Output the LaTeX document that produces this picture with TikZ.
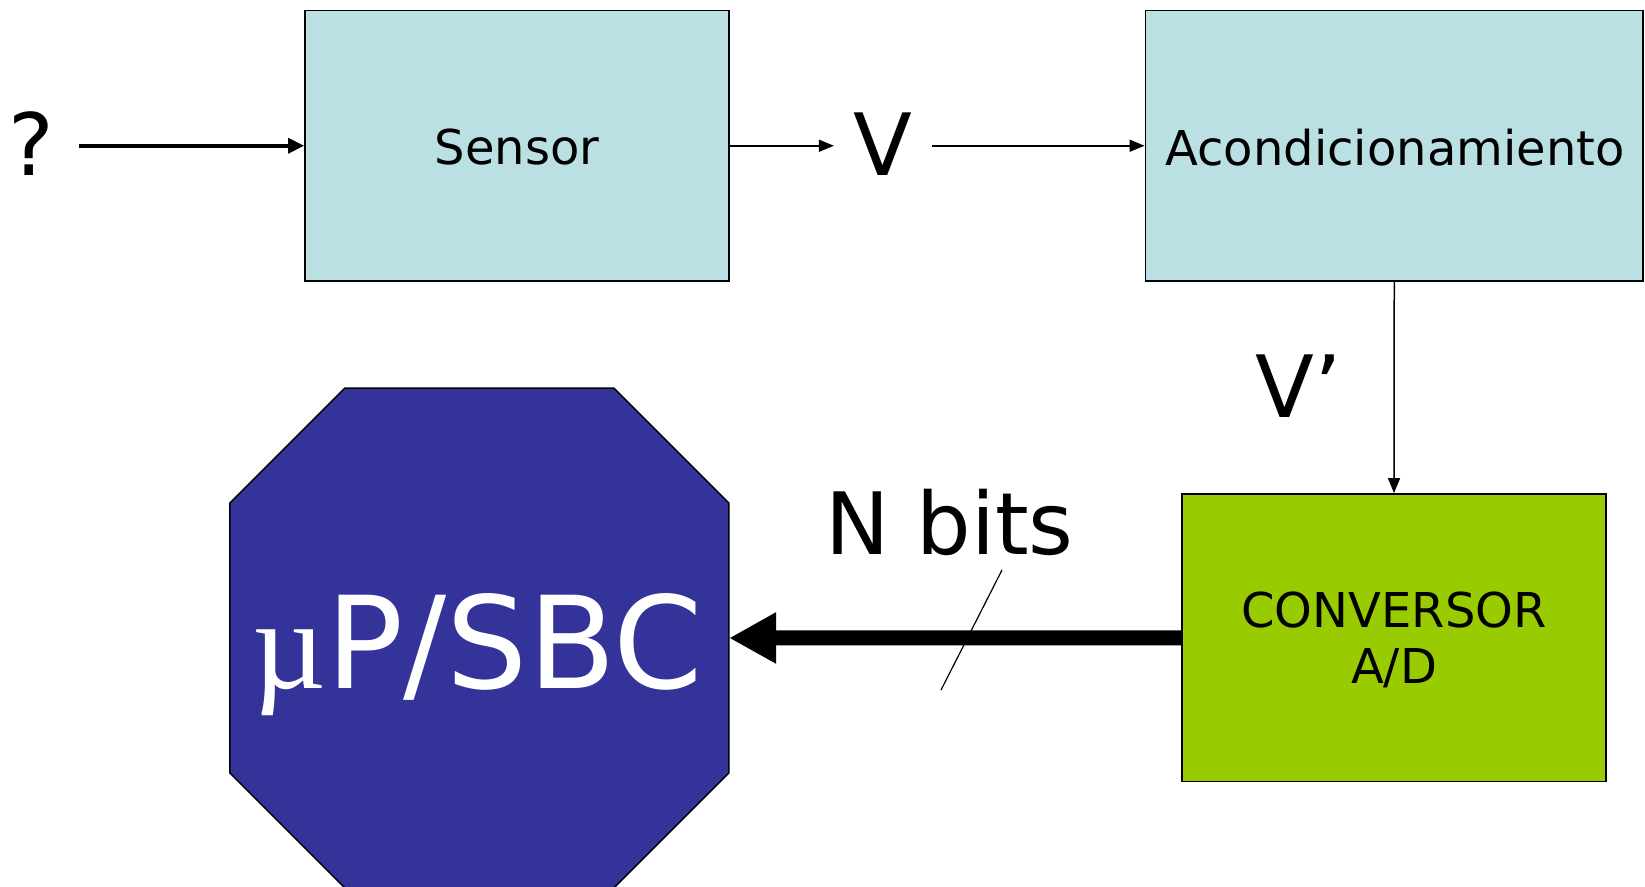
\documentclass[tikz,border=0pt]{standalone}
\usepackage{fontspec}
\setmainfont{DejaVu Sans}
\newfontfamily\mufont{Liberation Serif}
\usetikzlibrary{arrows.meta,calc}
\definecolor{sensorblue}{HTML}{BBE0E3}
\definecolor{convgreen}{HTML}{99CC00}
\definecolor{upblue}{HTML}{333399}
\begin{document}
\begin{tikzpicture}[x=1pt,y=-1pt,
  box/.style={draw=black,line width=1.8pt,inner sep=0pt,font=\fontsize{48}{56}\selectfont},
  lbl/.style={inner sep=0pt,font=\fontsize{86}{100}\selectfont},
  thinarr/.style={line width=1.5pt,-{Triangle[length=15pt,width=12pt]}},
  medarr/.style={line width=3.5pt,-{Triangle[length=16pt,width=15pt]}},
  bigarr/.style={line width=15pt,-{Triangle[length=47pt,width=48pt]}}]
\useasboundingbox (0,0) rectangle (1645,886);
% boxes
\node[box,fill=sensorblue,minimum width=424pt,minimum height=270.5pt] (sensor) at (517,145.75) {};
\node[inner sep=0pt,font=\fontsize{48}{56}\selectfont,anchor=base] at (517,164.5) {Sensor};
\node[box,fill=sensorblue,minimum width=497.5pt,minimum height=270.5pt] (acond) at (1394.25,145.75) {};
\node[inner sep=0pt,font=\fontsize{48}{56}\selectfont,anchor=base] at (1395,165) {Acondicionamiento};
\node[box,fill=convgreen,minimum width=424pt,minimum height=287.5pt] (conv) at (1394,637.75) {};
\node[inner sep=0pt,font=\fontsize{48}{56}\selectfont,anchor=base] at (1394,627) {CONVERSOR};
\node[inner sep=0pt,font=\fontsize{48}{56}\selectfont,anchor=base] at (1394,683) {A/D};
% octagon
\coordinate (uc) at (479.4,638);
\fill[upblue,draw=black,line width=1.5pt]
  ($(uc)+(-134.5,-250)$) -- ($(uc)+(134.5,-250)$) -- ($(uc)+(249.5,-135)$) --
  ($(uc)+(249.5,135)$) -- ($(uc)+(134.5,250)$) -- ($(uc)+(-134.5,250)$) --
  ($(uc)+(-249.5,135)$) -- ($(uc)+(-249.5,-135)$) -- cycle;
\node[inner sep=0pt,minimum width=499pt,minimum height=500pt] (up) at (uc) {};
\node[inner sep=0pt,text=white,font=\fontsize{128}{140}\selectfont,anchor=base] at (478,688) {{\mufont µ}P/SBC};
% labels
\node[lbl,anchor=base] (q) at (31,175) {?};
\node[lbl,anchor=base] (v) at (883,175) {V};
\node[lbl,anchor=base] (vp) at (1299,417.5) {V’};
\node[lbl,anchor=base] (nb) at (949.5,554) {N bits};
% connectors
\draw[medarr,shorten <=25pt] (q.east |- sensor.west) -- (sensor.west);
\draw[thinarr,shorten >=19.5pt] (sensor.east) -- (sensor.east -| v.west);
\draw[thinarr,shorten <=19pt] (acond.west -| v.east) -- (acond.west);
\draw[thinarr] (acond.south) -- (conv.north);
\draw[bigarr] (conv.west) -- (up.east);
\coordinate (s1) at (1002,570);
\coordinate (s2) at (941,690);
\draw[line width=1.2pt] (s1) -- (s2);
\end{tikzpicture}
\end{document}
